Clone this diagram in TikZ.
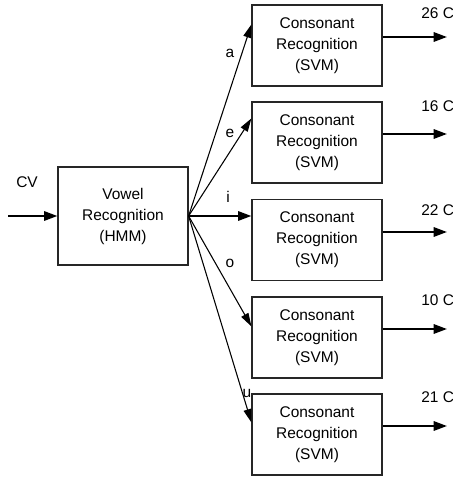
\documentclass[tikz,border=0pt]{standalone}
\usepackage{fontspec}
\setmainfont{Liberation Sans}
\usepackage{tikz}
\usetikzlibrary{arrows.meta}

\tikzset{
  recbox/.style={draw=black!85, line width=0.9pt, rectangle, align=center,
    minimum width=97.5pt, minimum height=60.75pt, inner sep=0pt,
    font=\fontsize{11.6}{15.75}\selectfont},
  lbl/.style={inner sep=0pt, font=\fontsize{11.6}{14}\selectfont},
  fat/.style={line width=1.6pt, -{Triangle[length=10pt,width=7pt]}},
  thin/.style={line width=0.8pt, -{Triangle[length=10pt,width=6pt]}}
}

\begin{document}
\begin{tikzpicture}[x=0.75pt,y=0.75pt,yscale=-1,xscale=1]
\useasboundingbox (0,0) rectangle (453,478);

%Vowel stage
\node [recbox, minimum height=73.5pt] (vowel) at (123,216) {Vowel\\Recognition\\(HMM)};
\coordinate (cvin) at (8,216);
\draw [fat] (cvin) -- (vowel.west);
\node [lbl] (cv) at (27,182) {CV};

%Consonant stages
\node [recbox] (svma) at (317,45.5) {Consonant\\Recognition\\(SVM)};
\node [recbox] (svme) at (317,142.5) {Consonant\\Recognition\\(SVM)};
\node [recbox] (svmi) at (317,240) {Consonant\\Recognition\\(SVM)};
\node [recbox] (svmo) at (317,337.5) {Consonant\\Recognition\\(SVM)};
\node [recbox] (svmu) at (317,434.5) {Consonant\\Recognition\\(SVM)};

%Fan out from the vowel box (yshift is flipped by yscale=-1)
\draw [thin] (vowel.east) -- ([yshift=15pt]svma.north west);
\draw [thin] (vowel.east) -- ([yshift=12.75pt]svme.north west);
\draw [fat] (vowel.east) -- (vowel.east -| svmi.west);
\draw [thin] (vowel.east) -- ([yshift=22.5pt]svmo.north west);
\draw [thin] (vowel.east) -- ([yshift=21.75pt]svmu.north west);

% Text Node
\node [lbl] (la) at (230,53) {a};
\node [lbl] (le) at (230,133) {e};
\node [lbl] (li) at (228,197) {i};
\node [lbl] (lo) at (230,263) {o};
\node [lbl] (lu) at (247,393) {u};

%Outputs
\coordinate (outa) at (447,37);
\coordinate (oute) at (447,134);
\coordinate (outi) at (447,232);
\coordinate (outo) at (447,329);
\coordinate (outu) at (447,426);
\draw [fat] (svma.east |- outa) -- (outa);
\draw [fat] (svme.east |- oute) -- (oute);
\draw [fat] (svmi.east |- outi) -- (outi);
\draw [fat] (svmo.east |- outo) -- (outo);
\draw [fat] (svmu.east |- outu) -- (outu);

% Text Node
\node [lbl, anchor=west] (na) at (421,13) {26 C};
\node [lbl, anchor=west] (ne) at (421,106) {16 C};
\node [lbl, anchor=west] (ni) at (421,210) {22 C};
\node [lbl, anchor=west] (no) at (421,300) {10 C};
\node [lbl, anchor=west] (nu) at (421,397) {21 C};

\end{tikzpicture}
\end{document}
